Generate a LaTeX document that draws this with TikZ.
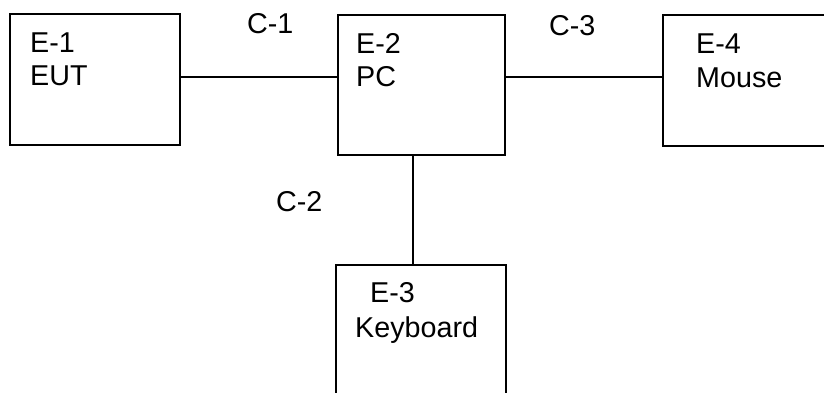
\documentclass[tikz,border=0pt]{standalone}
\usepackage{fontspec}
\setmainfont{Liberation Sans}
\usetikzlibrary{calc}

\tikzset{
  unit/.style={draw,line width=1.4bp,inner sep=0pt},
  tag/.style={anchor=base west,inner sep=0pt,font=\fontsize{28.8}{33}\selectfont},
  cable/.style={line width=1.4bp}
}

\begin{document}
\begin{tikzpicture}[x=1bp,y=-1bp]
      \path[use as bounding box,clip] (0,0) rectangle (824,392);
      \node[unit,minimum width=170bp,minimum height=131bp] at (95,79.5) (e1) {};
      \node[unit,minimum width=167bp,minimum height=140bp] at (421.5,85) (e2) {};
      \node[unit,minimum width=170bp,minimum height=145bp] at (421,337.5) (e3) {};
      \node[unit,minimum width=177bp,minimum height=131bp] at (751.5,80.5) (e4) {};
      % equipment labels
      \node[tag] at (30,52) (e1 id) {E-1};
      \node[tag] at (30,85) (e1 name) {EUT};
      \node[tag] at (356,53) (e2 id) {E-2};
      \node[tag] at (356,86) (e2 name) {PC};
      \node[tag] at (370,302) (e3 id) {E-3};
      \node[tag] at (355,337) (e3 name) {Keyboard};
      \node[tag] at (696,53) (e4 id) {E-4};
      \node[tag] at (696,87) (e4 name) {Mouse};
      % cables
      \draw[cable] ([yshift=2.5]e1.east) -- ([yshift=2.5]e1.east -| e2.west);
      \draw[cable] ([yshift=8]e2.east) -- ([yshift=8]e2.east -| e4.west);
      \draw[cable] ([xshift=-8.5]e2.south) -- ([xshift=-8.5]e2.south |- e3.north);
      \node[tag] at (247,33) (c1) {C-1};
      \node[tag] at (549,35) (c3) {C-3};
      \node[tag] at (276,211) (c2) {C-2};
    \end{tikzpicture}
\end{document}
